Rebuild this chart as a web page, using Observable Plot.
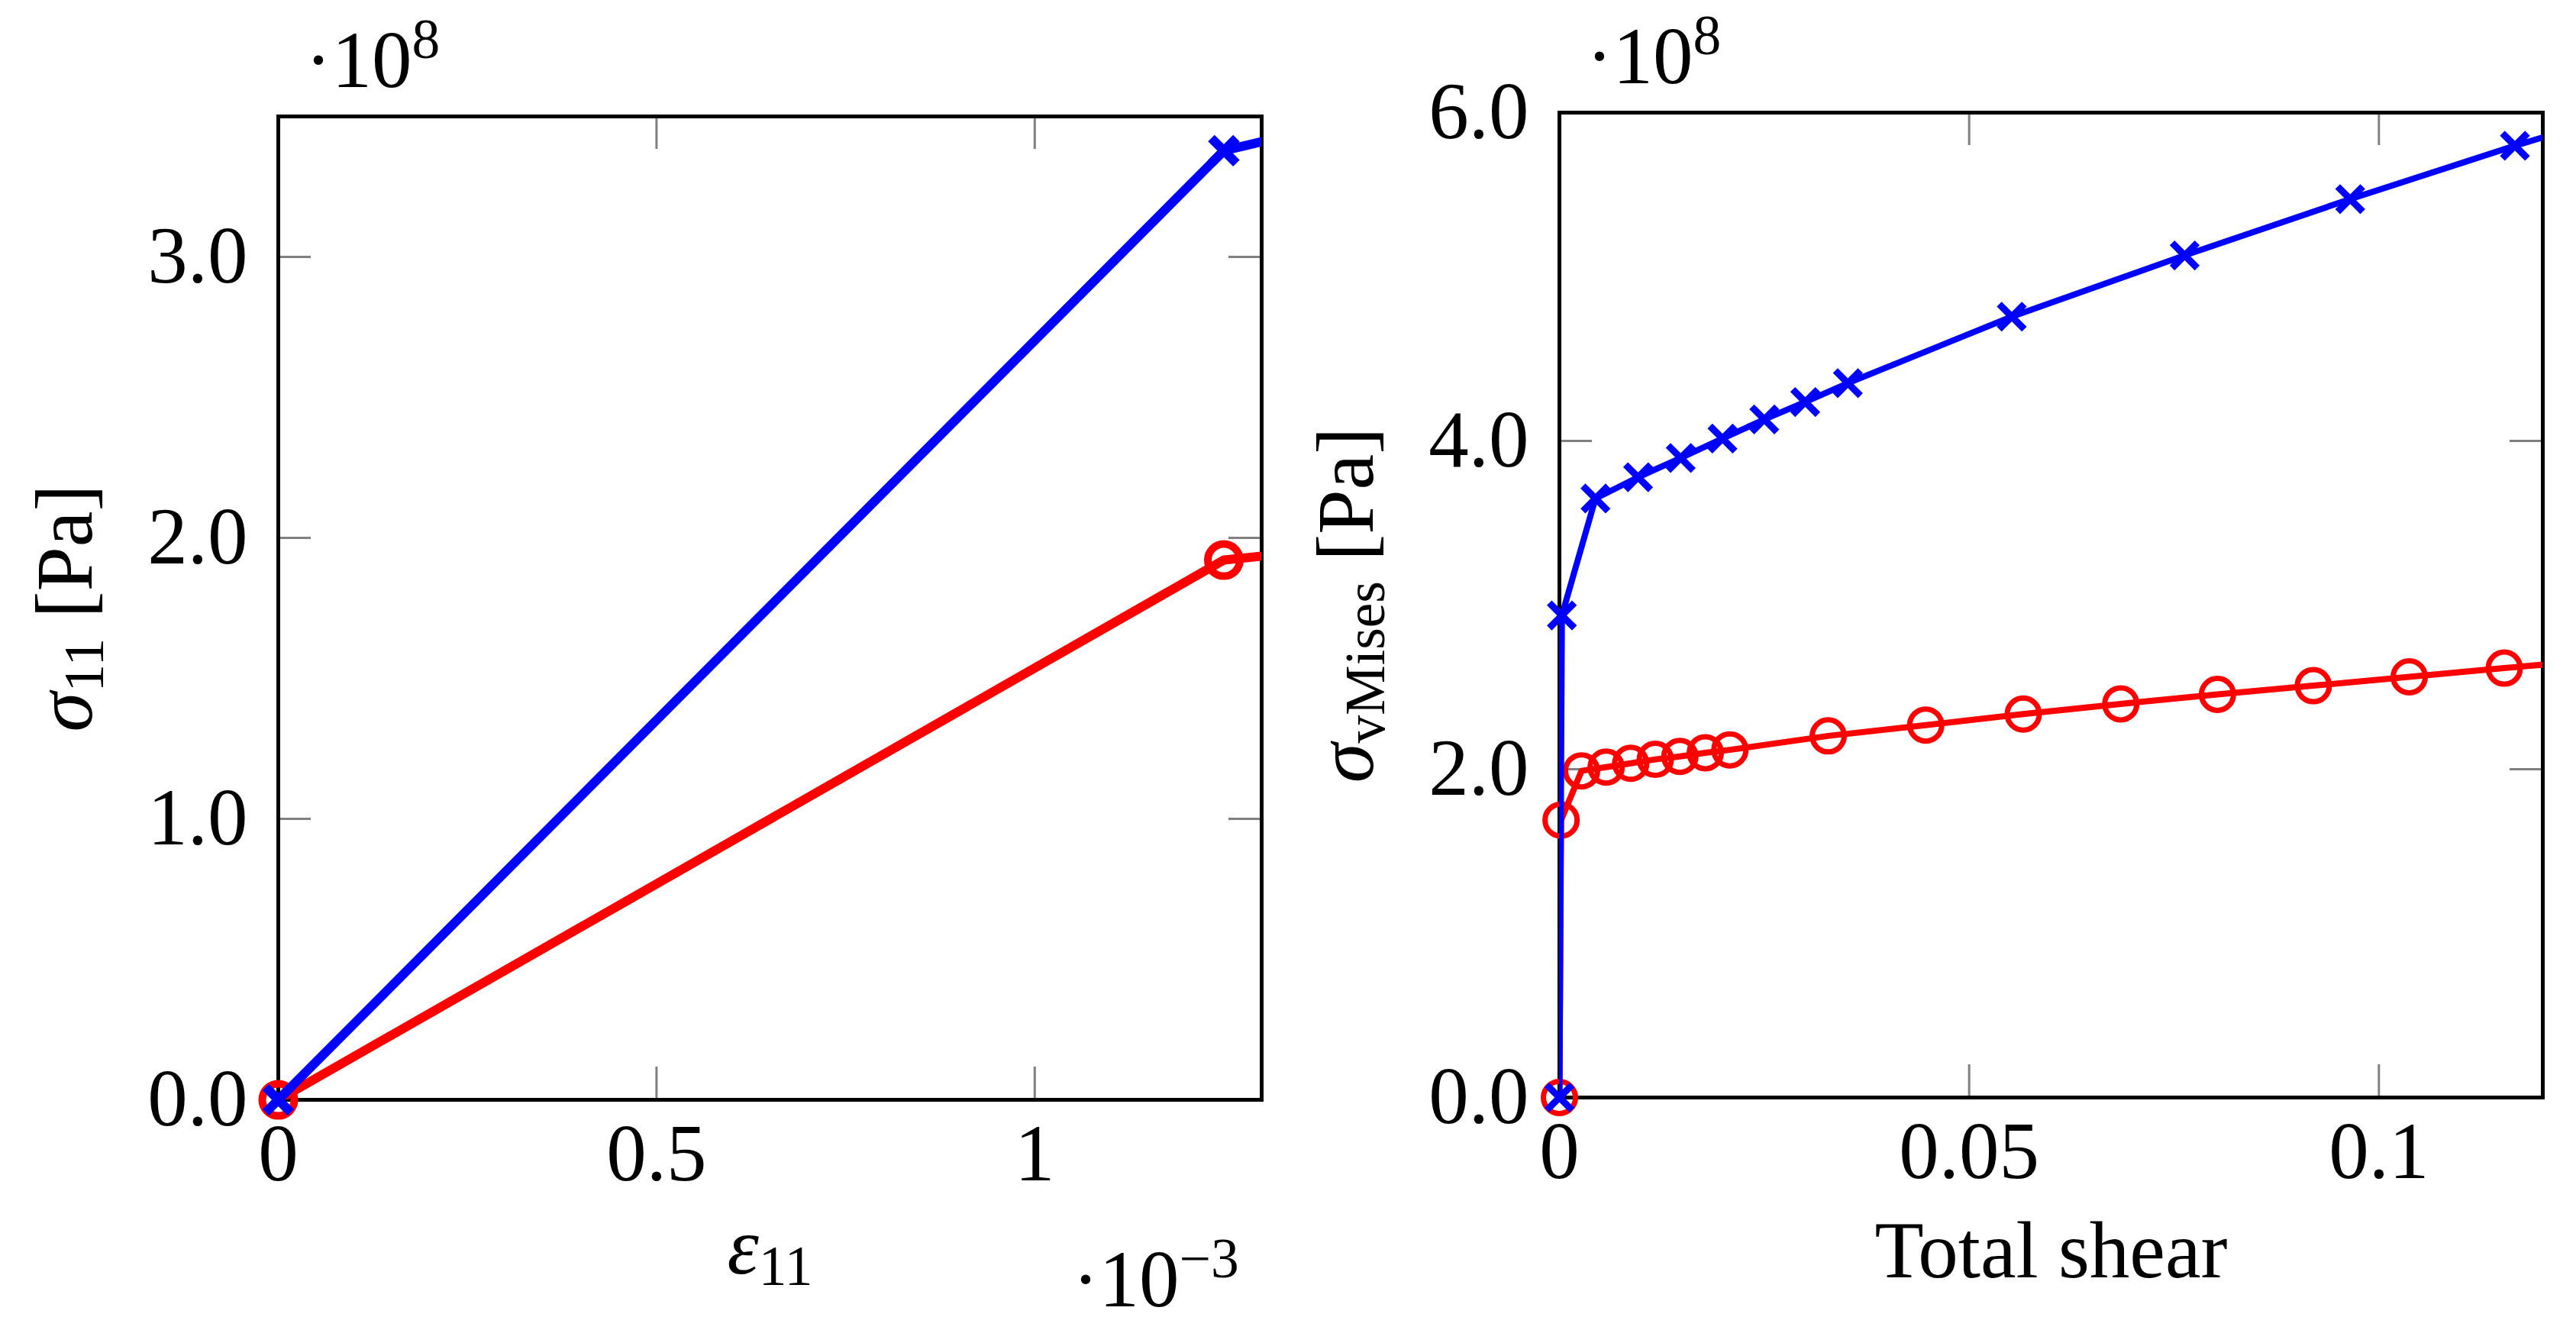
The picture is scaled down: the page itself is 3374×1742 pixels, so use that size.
<!DOCTYPE html>
<html><head><meta charset="utf-8">
<script src="https://cdn.jsdelivr.net/npm/d3@7"></script>
<script src="https://cdn.jsdelivr.net/npm/@observablehq/plot@0.6"></script>
<style>
html,body{margin:0;padding:0;background:#fff;overflow:hidden}
#wrap{position:relative;width:3374px;height:1742px;background:#fff}
#wrap>div{position:absolute;top:0}
svg text{white-space:pre}
</style></head><body>
<div id="wrap"><div id="left" style="left:0px"></div><div id="right" style="left:1700px"></div></div>
<script>
// ---------- data: left panel (sigma11 vs eps11) ----------
const strain11 = [0, 1.25e-3, 2.5e-3];
const sigma11Blue = [0, 3.378e8, 4.18e8];
const sigma11Red = [0, 1.921e8, 2.27e8];
const leftXTicks = [0, 0.5e-3, 1e-3];
const leftYTicks = [0, 1e8, 2e8, 3e8];
const leftXDomain = [0, 1.3e-3];
const leftYDomain = [0, 3.5e8];
const leftXLabel = "*ε*_{11}";
const leftYLabel = "*σ*_{11} [Pa]";
const leftYExp = "·10^{8}";
const leftXExp = "·10^{−3}";

// ---------- data: right panel (von Mises vs total shear) ----------
const shearBlue = [0, 0.0003, 0.0044, 0.0096, 0.0148, 0.0199, 0.0250, 0.0300, 0.0352, 0.0552, 0.0763, 0.0965, 0.1166, 0.1368];
const vmBlue = [0, 2.937e8, 3.649e8, 3.779e8, 3.896e8, 4.014e8, 4.131e8, 4.237e8, 4.352e8, 4.757e8, 5.13e8, 5.473e8, 5.798e8, 6.10e8];
const shearRed = [0, 0.0002, 0.0027, 0.0057, 0.0087, 0.0117, 0.0147, 0.0178, 0.0208, 0.0328, 0.0447, 0.0566, 0.0685, 0.0803, 0.0920, 0.1037, 0.1153, 0.1270];
const vmRed = [0, 1.69e8, 1.99e8, 2.013e8, 2.036e8, 2.06e8, 2.078e8, 2.10e8, 2.118e8, 2.203e8, 2.269e8, 2.336e8, 2.398e8, 2.456e8, 2.509e8, 2.563e8, 2.616e8, 2.668e8];
const rightXTicks = [0, 0.05, 0.1];
const rightYTicks = [0, 2e8, 4e8, 6e8];
const rightXDomain = [0, 0.12];
const rightYDomain = [0, 6e8];
const rightXLabel = "Total shear";
const rightYLabel = "*σ*_{vMises} [Pa]";
const rightYExp = "·10^{8}";

const FONT = 105;
const BLUE = "#0000ff", RED = "#ff0000", TICKC = "#808080";

const series = (xs, ys) => xs.map((x, i) => ({x, y: ys[i]}));

function richify(svg) {
  d3.select(svg).selectAll("text").each(function () {
    const s = this.textContent;
    if (!/[\^_*]/.test(s)) return;
    const base = FONT;
    const segs = [];
    const re = /\^\{([^}]*)\}|_\{([^}]*)\}|\*([^*]*)\*|([^\^_*]+)/g;
    let m;
    while ((m = re.exec(s))) {
      if (m[1] != null) segs.push({t: m[1], sh: "sup"});
      else if (m[2] != null) segs.push({t: m[2], sh: "sub"});
      else if (m[3] != null) segs.push({t: m[3], it: true});
      else segs.push({t: m[4]});
    }
    this.textContent = "";
    let cur = 0;
    for (const g of segs) {
      const target = g.sh === "sup" ? -0.36 * base : g.sh === "sub" ? 0.15 * base : 0;
      const ts = d3.select(this).append("tspan").text(g.t);
      if (target !== cur) ts.attr("dy", target - cur);
      cur = target;
      if (g.sh) ts.attr("font-size", 0.7 * base);
      if (g.it) ts.attr("font-style", "italic");
    }
  });
}

function panel(o) {
  const innerW = o.width - o.ml - o.mr;
  const innerH = o.height - o.mt - o.mb;
  const TL = 43;
  const red = series(o.redX, o.redY);
  const blue = series(o.blueX, o.blueY);
  const inX = d => d.x <= o.xDomain[1];
  const marks = [
    Plot.tickY(o.yTicks, {y: d => d, stroke: TICKC, strokeWidth: 3, insetRight: innerW - TL}),
    Plot.tickY(o.yTicks, {y: d => d, stroke: TICKC, strokeWidth: 3, insetLeft: innerW - TL}),
    Plot.tickX(o.xTicks, {x: d => d, stroke: TICKC, strokeWidth: 3, insetTop: innerH - TL}),
    Plot.tickX(o.xTicks, {x: d => d, stroke: TICKC, strokeWidth: 3, insetBottom: innerH - TL}),
    Plot.axisX({ticks: o.xTicks, tickFormat: o.xFmt, tickSize: 0, tickPadding: 31, fontSize: FONT, label: null}),
    Plot.axisY({ticks: o.yTicks, tickFormat: d => (d / 1e8).toFixed(1), tickSize: 0, tickPadding: 40, fontSize: FONT, label: null}),
    Plot.frame({stroke: "black", strokeWidth: 5}),
    Plot.line(red, {x: "x", y: "y", stroke: RED, strokeWidth: o.lineW, clip: true, strokeLinejoin: "round"}),
    Plot.dot(red.filter(inX), {x: "x", y: "y", symbol: "circle", r: 21, stroke: RED, strokeWidth: o.circW, fill: "none"}),
    Plot.line(blue, {x: "x", y: "y", stroke: BLUE, strokeWidth: o.lineW, clip: true, strokeLinejoin: "round"}),
    Plot.dot(blue.filter(inX), {x: "x", y: "y", symbol: "times", r: o.timesR, stroke: BLUE, strokeWidth: o.timesW}),
    Plot.text([o.xLabel], {text: d => d, frameAnchor: "bottom", dy: o.xLabelDy, lineAnchor: "bottom", textAnchor: "middle", fontSize: FONT}),
    Plot.text([o.yLabel], {text: d => d, frameAnchor: "left", dx: -245, rotate: -90, lineAnchor: "bottom", textAnchor: "middle", fontSize: FONT}),
    Plot.text([o.yExp], {text: d => d, frameAnchor: "top-left", dx: 35, dy: -39, lineAnchor: "bottom", textAnchor: "start", fontSize: FONT})
  ];
  if (o.xExp) marks.push(Plot.text([o.xExp], {text: d => d, frameAnchor: "bottom-right", dx: -248, dy: 270, lineAnchor: "bottom", textAnchor: "start", fontSize: FONT}));
  const svg = Plot.plot({
    width: o.width, height: o.height,
    marginLeft: o.ml, marginRight: o.mr, marginTop: o.mt, marginBottom: o.mb,
    x: {domain: o.xDomain}, y: {domain: o.yDomain},
    style: {fontFamily: "'Liberation Serif', 'DejaVu Serif', serif", fontSize: FONT + "px", color: "black", background: "white", overflow: "visible"},
    marks
  });
  richify(svg);
  document.getElementById(o.el).appendChild(svg);
}

panel({
  el: "left", width: 1700, height: 1742, ml: 364, mr: 48, mt: 152, mb: 302,
  xDomain: leftXDomain, yDomain: leftYDomain, xTicks: leftXTicks, yTicks: leftYTicks,
  xFmt: d => String(+(d * 1e3).toFixed(3)),
  redX: strain11, redY: sigma11Red, blueX: strain11, blueY: sigma11Blue,
  lineW: 12, circW: 10, timesR: 15, timesW: 12,
  xLabel: leftXLabel, yLabel: leftYLabel, xLabelDy: 227, yExp: leftYExp, xExp: leftXExp
});
panel({
  el: "right", width: 1674, height: 1742, ml: 342, mr: 44, mt: 147, mb: 305,
  xDomain: rightXDomain, yDomain: rightYDomain, xTicks: rightXTicks, yTicks: rightYTicks,
  xFmt: d => String(d),
  redX: shearRed, redY: vmRed, blueX: shearBlue, blueY: vmBlue,
  lineW: 8, circW: 7, timesR: 15, timesW: 9,
  xLabel: rightXLabel, yLabel: rightYLabel, xLabelDy: 235, yExp: rightYExp, xExp: null
});
</script>
</body></html>
